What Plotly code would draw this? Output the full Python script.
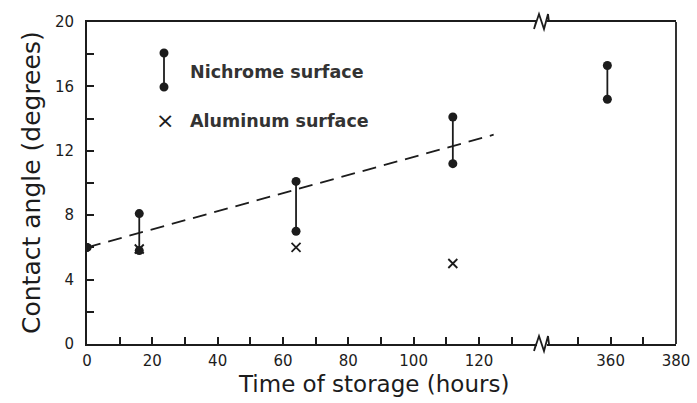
import plotly.graph_objects as go

# ---- data ----
nichrome_time = [0, 16, 64, 112, 359]
nichrome_high = [6.0, 8.1, 10.1, 14.1, 17.3]
nichrome_low = [6.0, 5.8, 7.0, 11.2, 15.2]

aluminum_time = [16, 64, 112]
aluminum_angle = [5.9, 6.0, 5.0]

trend_time = [0, 124.5]
trend_angle = [6.0, 13.0]

y_ticks = [0, 4, 8, 12, 16, 20]
x_left_ticks = [0, 20, 40, 60, 80, 100, 120]
x_right_ticks = [360, 380]

INK = "#1c1c1c"
FONT = "DejaVu Sans"
BREAK = 0.7725

fig = go.Figure()

def axis_of(t):
    return "x2" if t > 200 else "x"

# vertical bars for nichrome
for t, hi, lo in zip(nichrome_time, nichrome_high, nichrome_low):
    ax = axis_of(t)
    fig.add_trace(go.Scatter(x=[t, t], y=[lo, hi], mode="lines+markers",
                             xaxis=ax, yaxis="y",
                             line=dict(color=INK, width=1.8),
                             marker=dict(color=INK, size=9, symbol="circle"),
                             showlegend=False, hoverinfo="skip"))

# trend line
fig.add_trace(go.Scatter(x=trend_time, y=trend_angle, mode="lines",
                         xaxis="x", yaxis="y",
                         line=dict(color=INK, width=1.8, dash="14px,8px"),
                         showlegend=False, hoverinfo="skip"))

# aluminum
fig.add_trace(go.Scatter(x=aluminum_time, y=aluminum_angle, mode="markers",
                         xaxis="x", yaxis="y",
                         marker=dict(color=INK, size=9, symbol="x-thin",
                                     line=dict(color=INK, width=1.8)),
                         showlegend=False, hoverinfo="skip"))

common_x = dict(showline=True, linecolor=INK, linewidth=1.8, mirror=True,
                ticks="inside", ticklen=7, tickwidth=1.5, tickcolor=INK,
                showgrid=False, zeroline=False, automargin=False,
                ticklabelstandoff=2,
                tickfont=dict(family=FONT, size=15, color=INK))

fig.update_layout(
    width=697, height=403,
    margin=dict(l=87, r=21, t=22, b=59),
    paper_bgcolor="white", plot_bgcolor="white",
    showlegend=False,
    xaxis=dict(domain=[0, BREAK], range=[0, 139.3], anchor="y",
               tickvals=x_left_ticks,
               minor=dict(dtick=10, tick0=0, ticks="inside", ticklen=7,
                          tickwidth=1.5, tickcolor=INK),
               **common_x),
    xaxis2=dict(domain=[BREAK, 1], range=[339, 380], anchor="y",
                tickvals=x_right_ticks,
                minor=dict(tickvals=[350, 370], ticks="inside", ticklen=7,
                           tickwidth=1.5, tickcolor=INK),
                **common_x),
    yaxis=dict(range=[0, 20], tickvals=y_ticks,
               showline=True, linecolor=INK, linewidth=1.8,
               ticks="inside", ticklen=7, tickwidth=1.5, tickcolor=INK,
               minor=dict(dtick=2, tick0=0, ticks="inside", ticklen=7,
                          tickwidth=1.5, tickcolor=INK),
               showgrid=False, zeroline=False, automargin=False,
               tickfont=dict(family=FONT, size=15, color=INK),
               ticklabelstandoff=8),
)

# right frame line
fig.add_shape(type="line", xref="paper", yref="paper", x0=1, x1=1, y0=0, y1=1,
              line=dict(color=INK, width=1.8))

# axis-break marks (top and bottom)
for yp in (0, 1):
    fig.add_shape(type="rect", xref="paper", yref="paper",
                  xsizemode="pixel", ysizemode="pixel",
                  xanchor=BREAK, yanchor=yp,
                  x0=-5, x1=5, y0=-3, y1=3,
                  fillcolor="white", line=dict(width=0), layer="above")
    fig.add_shape(type="path", xref="paper", yref="paper",
                  xsizemode="pixel", ysizemode="pixel",
                  xanchor=BREAK, yanchor=yp,
                  path="M -6,0 L -8,-7 L -3,8 L 2,-7 L 6,8 L 7,0",
                  line=dict(color=INK, width=1.8), layer="above")

# axis titles
fig.add_annotation(text="Time of storage (hours)", xref="paper", yref="paper",
                   x=(373 - 87) / 589, y=0, yshift=-40, showarrow=False,
                   font=dict(family=FONT, size=23, color=INK),
                   xanchor="center", yanchor="middle")
fig.add_annotation(text="Contact angle (degrees)", xref="paper", yref="paper",
                   x=0, xshift=-56, y=0.5, textangle=-90, showarrow=False,
                   font=dict(family=FONT, size=25, color=INK),
                   xanchor="center", yanchor="middle")

# legend (drawn manually)
def px_x(px):
    return (px - 87) / 589

def px_y(py):
    return (344 - py) / 322

fig.add_shape(type="line", xref="paper", yref="paper",
              x0=px_x(164), x1=px_x(164), y0=px_y(53), y1=px_y(87),
              line=dict(color=INK, width=1.8))
for py in (53, 87):
    fig.add_shape(type="circle", xref="paper", yref="paper",
                  xsizemode="pixel", ysizemode="pixel",
                  xanchor=px_x(164), yanchor=px_y(py),
                  x0=-4.5, x1=4.5, y0=-4.5, y1=4.5,
                  fillcolor=INK, line=dict(color=INK, width=0))
fig.add_annotation(text="×", xref="paper", yref="paper",
                   x=px_x(165), y=px_y(121), showarrow=False,
                   font=dict(family=FONT, size=22, color=INK),
                   xanchor="center", yanchor="middle")
fig.add_annotation(text="<b>Nichrome surface</b>", xref="paper", yref="paper",
                   x=px_x(188), y=px_y(72), showarrow=False,
                   font=dict(family=FONT, size=17.5, color="#333"),
                   xanchor="left", yanchor="middle")
fig.add_annotation(text="<b>Aluminum surface</b>", xref="paper", yref="paper",
                   x=px_x(188), y=px_y(121), showarrow=False,
                   font=dict(family=FONT, size=17.5, color="#333"),
                   xanchor="left", yanchor="middle")

fig.write_html("out.html",
               config={"displayModeBar": False},
               post_script="document.body.style.margin='0';")
